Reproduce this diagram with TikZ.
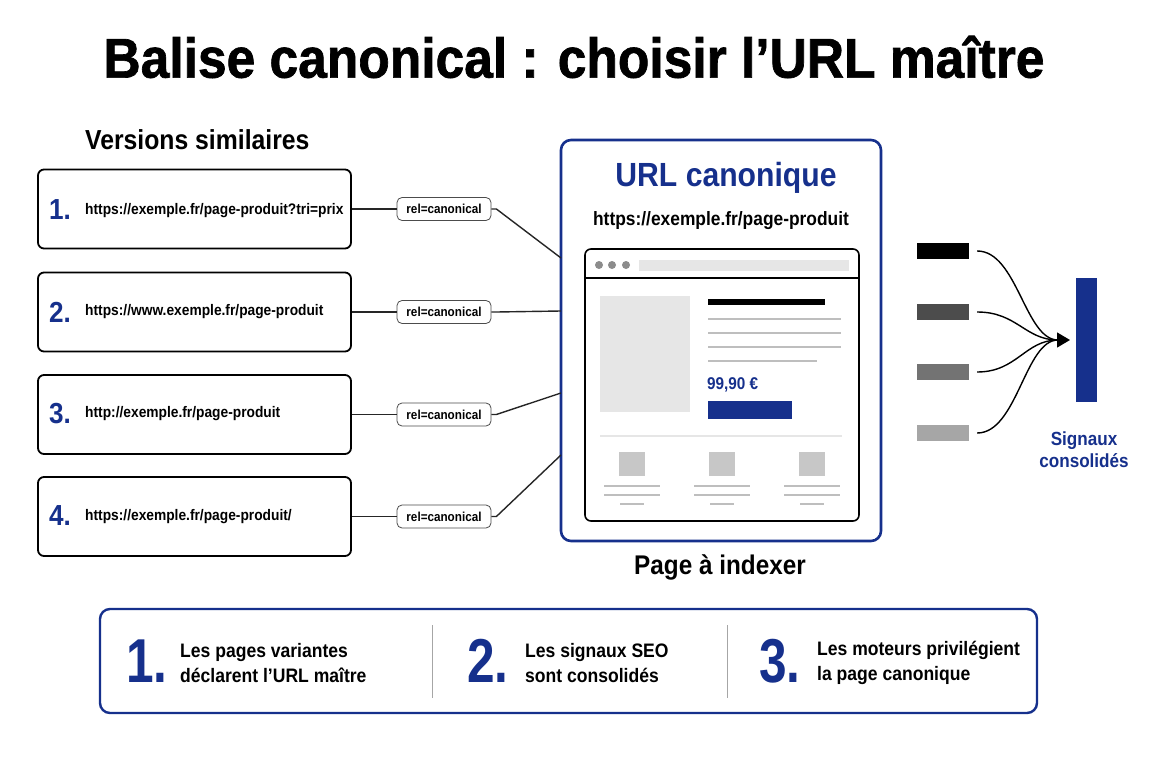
\documentclass[tikz,border=0pt]{standalone}
\usepackage{fontspec}
\setmainfont{Liberation Sans}[FakeStretch=0.9]
\newfontfamily\titlefont{Liberation Sans}[FakeStretch=0.92,FakeBold=1.2]
\newfontfamily\numfont{Liberation Sans}[FakeStretch=0.8]
\usetikzlibrary{arrows.meta}
\definecolor{navy}{RGB}{22,48,140}
\definecolor{lgray}{RGB}{230,230,230}
\definecolor{mgray}{RGB}{190,190,190}
\tikzset{
  urlbox/.style={draw=black,line width=1.8pt,rounded corners=6pt,minimum width=313pt,minimum height=79pt,inner sep=0pt},
  num/.style={text=navy,font=\fontsize{29}{30}\selectfont\bfseries,anchor=west,inner sep=0pt},
  urltxt/.style={font=\fontsize{15.3}{18}\selectfont\bfseries,anchor=west,inner sep=0pt},
  pill/.style={draw=black!70,line width=0.8pt,rounded corners=5pt,fill=white,minimum width=94pt,minimum height=23pt,inner sep=0pt,font=\fontsize{13}{14}\selectfont\bfseries},
  conn/.style={line width=1.4pt,draw=black!85},
  glline/.style={draw=mgray,line width=2.2pt},
  bar/.style={minimum width=52pt,minimum height=16pt,inner sep=0pt},
  bignum/.style={text=navy,font=\fontsize{62}{64}\numfont\bfseries,anchor=west,inner sep=0pt},
  steptxt/.style={font=\fontsize{19.5}{25}\selectfont\bfseries,anchor=west,align=left,inner sep=0pt},
}
\begin{document}
\begin{tikzpicture}[x=1pt,y=-1pt]
\useasboundingbox (0,0) rectangle (1152,768);
\fill[white] (0,0) rectangle (1152,768);
% title
\node[font=\fontsize{56}{60}\titlefont\bfseries] (title) at (574,57) {Balise canonical : choisir l’URL maître};
\node[font=\fontsize{27.5}{30}\selectfont\bfseries,anchor=west,inner sep=0pt] (vs) at (85,140) {Versions similaires};
% url boxes
\node[urlbox] (b1) at (194.5,209) {};
\node[urlbox] (b2) at (194.5,312) {};
\node[urlbox] (b3) at (194.5,414.5) {};
\node[urlbox] (b4) at (194.5,516.5) {};
\node[num] (n1) at (49,210) {1.};
\node[num] (n2) at (49,312) {2.};
\node[num] (n3) at (49,414) {3.};
\node[num] (n4) at (49,516) {4.};
\node[urltxt] (u1) at (85,211) {https://exemple.fr/page-produit?tri=prix};
\node[urltxt] (u2) at (85,312) {https://www.exemple.fr/page-produit};
\node[urltxt] (u3) at (85,414) {http://exemple.fr/page-produit};
\node[urltxt] (u4) at (85,517) {https://exemple.fr/page-produit/};
% pills
\node[pill] (p1) at (444,209) {rel=canonical};
\node[pill] (p2) at (444,312) {rel=canonical};
\node[pill] (p3) at (444,414.5) {rel=canonical};
\node[pill] (p4) at (444,516.5) {rel=canonical};
% canonical box
\node[draw=navy,line width=2.6pt,rounded corners=10pt,minimum width=320pt,minimum height=401pt,inner sep=0pt] (canon) at (721,340.5) {};
\coordinate (c1) at (561,258);
\coordinate (c2) at (561,311);
\coordinate (c3) at (561,393);
\coordinate (c4) at (561,455);
\foreach \i in {1,2,3,4}{
  \draw[conn] (b\i.east) -- (p\i.west);
  \draw[conn] (p\i.east) -- ++(5,0) -- (c\i);
}
\node[text=navy,font=\fontsize{33.5}{36}\selectfont\bfseries] (ctitle) at (726,178) {URL canonique};
\node[font=\fontsize{19.3}{21}\selectfont\bfseries] (curl) at (721,221) {https://exemple.fr/page-produit};
% browser
\node[draw=black,line width=1.6pt,rounded corners=6pt,minimum width=274pt,minimum height=272pt,inner sep=0pt] (win) at (722,385) {};
\draw[line width=1.4pt] (win.west |- 0,278) -- (win.east |- 0,278);
\foreach \x/\n in {599/d1,612/d2,626/d3}{\node[circle,fill=black!45,minimum size=8pt,inner sep=0pt] (\n) at (\x,265) {};}
\node[fill=lgray,minimum width=210pt,minimum height=11pt,inner sep=0pt] (addr) at (744,265) {};
\node[fill=lgray,minimum width=90pt,minimum height=116pt,inner sep=0pt] (img) at (645,354) {};
\fill[black] (708,299) rectangle (825,305);
\draw[glline] (708,319) -- (841,319);
\draw[glline] (708,333) -- (841,333);
\draw[glline] (708,347) -- (841,347);
\draw[glline] (708,361) -- (817,361);
\node[text=navy,font=\fontsize{17}{18}\selectfont\bfseries,anchor=west,inner sep=0pt] (price) at (707,385) {99,90 €};
\fill[navy] (708,401) rectangle (792,419);
\draw[lgray,line width=1.4pt] (600,436) -- (842,436);
\foreach \cx in {632,722,812}{
  \fill[black!22] (\cx-13,452) rectangle (\cx+13,476);
  \draw[glline,line width=1.8pt] (\cx-28,486) -- (\cx+28,486);
  \draw[glline,line width=1.8pt] (\cx-28,495) -- (\cx+28,495);
  \draw[glline,line width=1.8pt] (\cx-12,504) -- (\cx+12,504);
}
\node[font=\fontsize{27}{29}\selectfont\bfseries] (pidx) at (720,567) {Page à indexer};
% signals
\node[bar,fill=black] (s1) at (943,251) {};
\node[bar,fill=black!70] (s2) at (943,312) {};
\node[bar,fill=black!55] (s3) at (943,372) {};
\node[bar,fill=black!35] (s4) at (943,433) {};
\coordinate (tip) at (1058,340);
\foreach \i in {1,2,3,4}{
  \draw[line width=1.4pt] ([xshift=8pt]s\i.east) .. controls +(40,0) and (1025,340) .. (tip);
}
\draw[line width=1.4pt,-{Triangle[length=13pt,width=15pt]}] (1052,340) -- (1070,340);
\node[fill=navy,minimum width=21pt,minimum height=124pt,inner sep=0pt] (cbar) at (1086.5,340) {};
\node[text=navy,font=\fontsize{19}{22}\selectfont\bfseries,align=center] (sig) at (1084,450) {Signaux\\consolidés};
% bottom box
\node[draw=navy,line width=2.4pt,rounded corners=10pt,minimum width=937pt,minimum height=104pt,inner sep=0pt] (steps) at (568.5,661) {};
\draw[black!35,line width=1pt] (432,625) -- (432,698);
\draw[black!35,line width=1pt] (727,625) -- (727,698);
\node[bignum] (k1) at (126,661) {1.};
\node[bignum] (k2) at (467,661) {2.};
\node[bignum] (k3) at (759,661) {3.};
\node[steptxt] (t1) at (180,663) {Les pages variantes\\déclarent l’URL maître};
\node[steptxt] (t2) at (525,663) {Les signaux SEO\\sont consolidés};
\node[steptxt] (t3) at (817,663) {Les moteurs privilégient\\la page canonique};
\end{tikzpicture}
\end{document}
